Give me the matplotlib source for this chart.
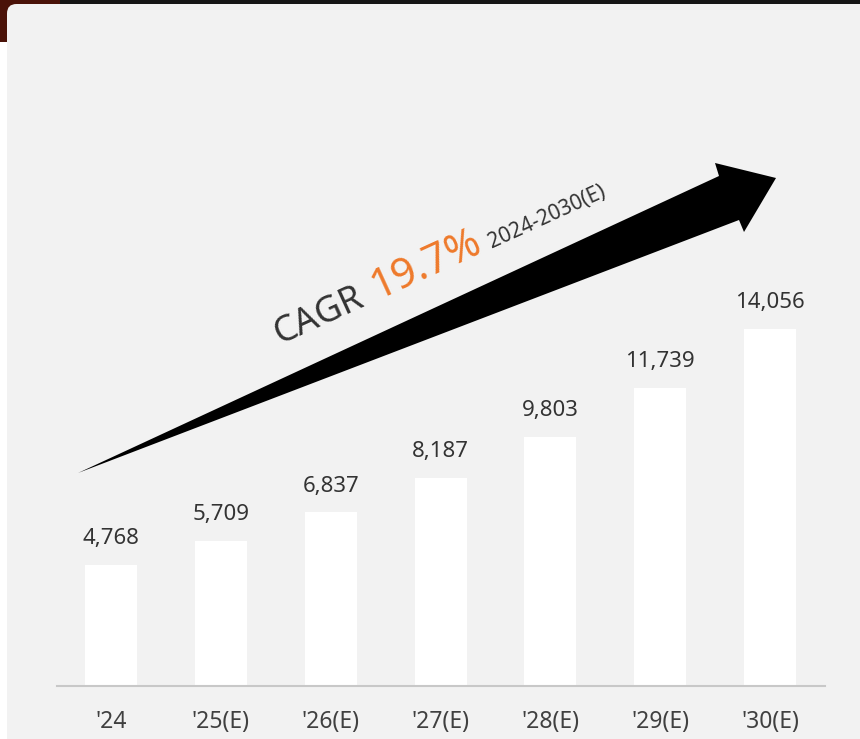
import matplotlib
matplotlib.use("Agg")
import matplotlib.pyplot as plt
from matplotlib.patches import Polygon, FancyBboxPatch, Rectangle

plt.rcParams['font.family'] = ['Noto Sans', 'DejaVu Sans']

categories = ["'24", "'25(E)", "'26(E)", "'27(E)", "'28(E)", "'29(E)", "'30(E)"]
values = [4768, 5709, 6837, 8187, 9803, 11739, 14056]
cagr_label = "CAGR"
cagr_value = "19.7%"
cagr_period = "2024-2030(E)"

W, H = 860, 739
fig = plt.figure(figsize=(W / 100, H / 100), dpi=100)
fig.patch.set_facecolor('white')

def fx(px):
    return px / W

def fy(py):
    return 1 - py / H

# dark background bits at the top
fig.add_artist(Rectangle((0, fy(4)), 1, 4 / H, transform=fig.transFigure,
                         facecolor='#161616', edgecolor='none', zorder=0))
fig.add_artist(Rectangle((0, fy(42)), fx(60), 42 / H, transform=fig.transFigure,
                         facecolor='#4a1208', edgecolor='none', zorder=0))
# grey panel
fig.add_artist(FancyBboxPatch((fx(7), fy(760)), fx(900), 756 / H,
                              boxstyle="round,pad=0,rounding_size=0.011",
                              transform=fig.transFigure, facecolor='#f2f2f2',
                              edgecolor='none', zorder=1, mutation_aspect=W / H))

# axes: bottom at baseline y=686px, top at 100px
ax = fig.add_axes([fx(57), fy(686), fx(825 - 57), (686 - 100) / H])
ax.set_facecolor('none')
ax.set_zorder(2)
x = list(range(len(categories)))
ax.bar(x, values, width=0.474, color='white', zorder=2)
ax.set_xlim(-0.492, 6.50)
ax.set_ylim(0, 23080)
for s in ['top', 'right', 'left']:
    ax.spines[s].set_visible(False)
ax.spines['bottom'].set_color('#c8c8c8')
ax.spines['bottom'].set_linewidth(1.5)
ax.set_yticks([])
ax.set_xticks(x)
ax.set_xticklabels(categories, fontsize=16.5, color='#404040')
ax.tick_params(axis='x', length=0, pad=17.5)
for xi, v in zip(x, values):
    ax.annotate(f"{v:,}", (xi, v), xytext=(0, 15), textcoords='offset points',
                ha='center', va='baseline', fontsize=16, color='#333333')

# arrow (decorative)
pts = [(78, 473), (719, 176), (715, 163), (776, 178), (744, 232), (739, 220)]
fig.add_artist(Polygon([(fx(a), fy(b)) for a, b in pts], closed=True,
                       transform=fig.transFigure, facecolor='black',
                       edgecolor='none', zorder=3))

rot = 24.5
fig.text(fx(280), fy(344), cagr_label, fontsize=26, color='#333333',
         rotation=rot, rotation_mode='anchor', ha='left', va='baseline',
         fontweight='light', zorder=4)
fig.text(fx(377), fy(299), cagr_value, fontsize=30, color='#ee7a2b',
         rotation=rot, rotation_mode='anchor', ha='left', va='baseline',
         fontweight='light', zorder=4)
fig.text(fx(492), fy(248), cagr_period, fontsize=15, color='#333333',
         rotation=rot, rotation_mode='anchor', ha='left', va='baseline',
         zorder=4)

fig.savefig('out.png', dpi=100)
